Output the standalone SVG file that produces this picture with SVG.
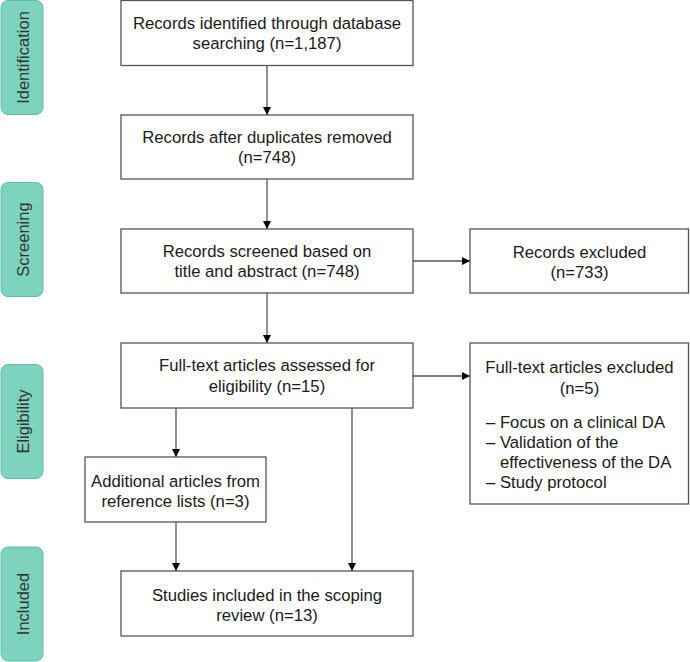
<svg xmlns="http://www.w3.org/2000/svg" width="690" height="662" viewBox="0 0 690 662">
<defs>
<style>
.box{fill:#fff;stroke:#555;stroke-width:1.3}
.side{fill:#7dd3bd;stroke:#5dbfa6;stroke-width:1}
.t{font-family:"Liberation Sans",Arial,sans-serif;font-size:16.7px;fill:#1a1a1a}
.c{text-anchor:middle}
.s{font-family:"Liberation Sans",Arial,sans-serif;font-size:16.5px;fill:#333;text-anchor:middle}
.ln{stroke:#555;stroke-width:1.3;fill:none}
</style>
<marker id="ah" viewBox="0 0 10 10" refX="10" refY="5" markerWidth="8" markerHeight="8" markerUnits="userSpaceOnUse" orient="auto">
<path d="M0,0 L10,5 L0,10 Z" fill="#000"/>
</marker>
</defs>
<g id="phase-identification"><rect class="side" x="1" y="0.5" width="42" height="114" rx="7"/><text class="s" transform="translate(28.5,57.5) rotate(-90)">Identification</text></g>
<g id="phase-screening"><rect class="side" x="1" y="182.5" width="42" height="114" rx="7"/><text class="s" transform="translate(28.5,239.5) rotate(-90)">Screening</text></g>
<g id="phase-eligibility"><rect class="side" x="1" y="364.5" width="42" height="114" rx="7"/><text class="s" transform="translate(28.5,421.5) rotate(-90)">Eligibility</text></g>
<g id="phase-included"><rect class="side" x="1" y="547" width="42" height="114" rx="7"/><text class="s" transform="translate(28.5,604) rotate(-90)">Included</text></g>

<g id="connectors">
<line class="ln" x1="267" y1="65" x2="267" y2="115" marker-end="url(#ah)"/>
<line class="ln" x1="267" y1="179" x2="267" y2="229" marker-end="url(#ah)"/>
<line class="ln" x1="267" y1="293" x2="267" y2="343" marker-end="url(#ah)"/>
<line class="ln" x1="413" y1="261" x2="470" y2="261" marker-end="url(#ah)"/>
<line class="ln" x1="413" y1="376" x2="470" y2="376" marker-end="url(#ah)"/>
<line class="ln" x1="176" y1="408" x2="176" y2="457" marker-end="url(#ah)"/>
<line class="ln" x1="176" y1="522" x2="176" y2="571" marker-end="url(#ah)"/>
<line class="ln" x1="352" y1="408" x2="352" y2="571" marker-end="url(#ah)"/>
</g>

<g id="n1"><rect class="box" x="121" y="0.5" width="292" height="65"/>
<text class="t c" x="267" y="29">Records identified through database</text>
<text class="t c" x="267" y="49">searching (n=1,187)</text></g>
<g id="n2"><rect class="box" x="121" y="115" width="292" height="64"/>
<text class="t c" x="267" y="143">Records after duplicates removed</text>
<text class="t c" x="267" y="163">(n=748)</text></g>
<g id="n3"><rect class="box" x="121" y="229" width="292" height="64"/>
<text class="t c" x="267" y="257">Records screened based on</text>
<text class="t c" x="267" y="277">title and abstract (n=748)</text></g>
<g id="n4"><rect class="box" x="470" y="229" width="218.5" height="64"/>
<text class="t c" x="579.5" y="258">Records excluded</text>
<text class="t c" x="579.5" y="278">(n=733)</text></g>
<g id="n5"><rect class="box" x="121" y="343" width="292" height="65"/>
<text class="t c" x="267" y="371">Full-text articles assessed for</text>
<text class="t c" x="267" y="392">eligibility (n=15)</text></g>
<g id="n6"><rect class="box" x="470" y="343" width="218.5" height="161"/>
<text class="t c" x="579.5" y="373">Full-text articles excluded</text>
<text class="t c" x="579.5" y="394">(n=5)</text>
<text class="t" x="486" y="428">– Focus on a clinical DA</text>
<text class="t" x="486" y="448">– Validation of the</text>
<text class="t" x="500" y="468">effectiveness of the DA</text>
<text class="t" x="486" y="488">– Study protocol</text></g>
<g id="n7"><rect class="box" x="85" y="457" width="181" height="65"/>
<text class="t c" x="175.5" y="487">Additional articles from</text>
<text class="t c" x="175.5" y="507">reference lists (n=3)</text></g>
<g id="n8"><rect class="box" x="121" y="571" width="292" height="65"/>
<text class="t c" x="267" y="601">Studies included in the scoping</text>
<text class="t c" x="267" y="621">review (n=13)</text></g>
</svg>
